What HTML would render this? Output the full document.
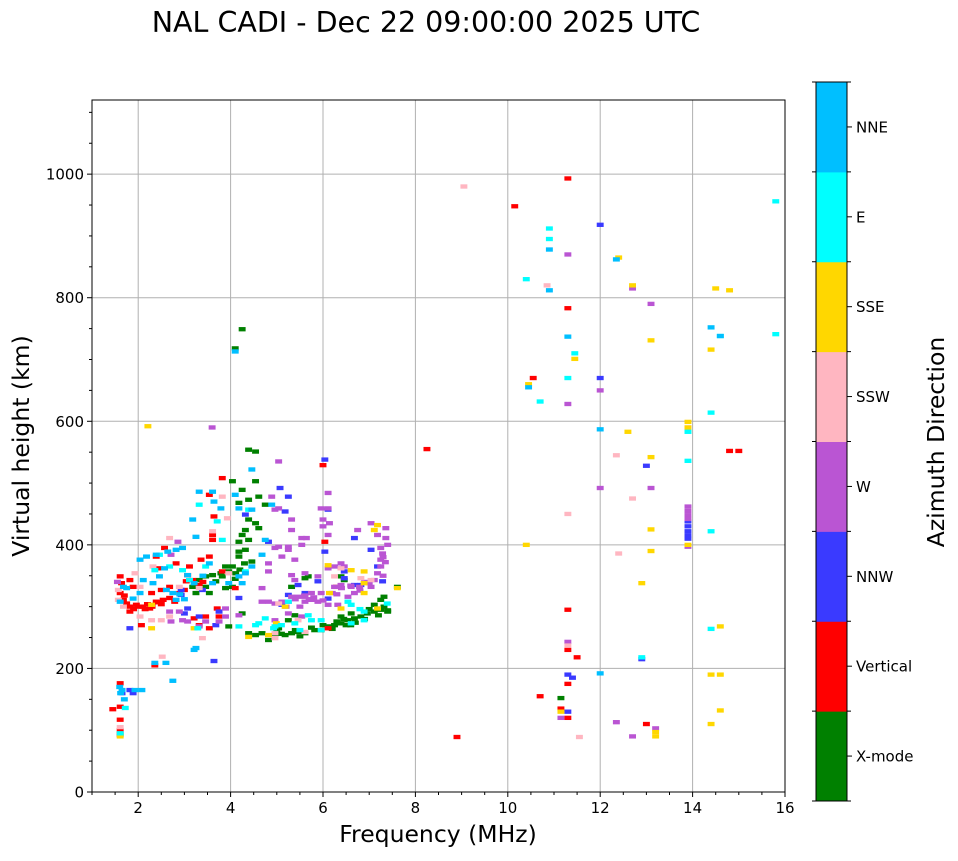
<!DOCTYPE html>
<html><head><meta charset="utf-8">
<style>
html,body{margin:0;padding:0;background:#fff;}
body{width:958px;height:857px;overflow:hidden;font-family:"DejaVu Sans","Liberation Sans",sans-serif;}
svg text{font-family:"DejaVu Sans","Liberation Sans",sans-serif;fill:#000;}
</style></head>
<body>
<svg id="chart" width="958" height="857" xmlns="http://www.w3.org/2000/svg">
<text x="426" y="32" font-size="28.5" text-anchor="middle">NAL CADI - Dec 22 09:00:00 2025 UTC</text>
<g id="grid"></g>
<g id="marks"></g>
<g id="axes"></g>
<text x="438" y="842" font-size="23.5" text-anchor="middle">Frequency (MHz)</text>
<text transform="translate(29,446) rotate(-90)" font-size="23.5" text-anchor="middle">Virtual height (km)</text>
<g id="cbar"></g>
<text transform="translate(944,442) rotate(-90)" font-size="23.5" text-anchor="middle">Azimuth Direction</text>
</svg>
<script>
const directions=["X-mode","Vertical","NNW","W","SSW","SSE","E","NNE"];
const colors=["#008000","#ff0000","#3a3aff","#ba55d3","#ffb6c1","#ffd700","#00ffff","#00bfff"];
const xTicks=[2,4,6,8,10,12,14,16];
const yTicks=[0,200,400,600,800,1000];

const xmodeFreq=[3.18,3.32,3.46,3.61,3.79,3.96,4.04,4.18,4.18,4.32,4.39,4.46,4.18,4.39,4.39,4.54,4.04,4.54,4.25,4.61,4.75,4.39,4.54,4.61,4.32,4.25,4.18,3.89,3.82,3.68,3.46,3.25,4.04,3.89,3.54,4.11,4.39,4.54,4.68,4.96,5.18,5.32,5.46,5.61,5.82,5.96,6.11,6.25,6.39,6.54,6.68,6.82,6.96,7.11,7.25,7.32,7.25,7.32,7.61,6.46,6.39,5.68,5.61,5.32,5.39,5.25,5.04,3.96,6.39,6.61,7.11,4.25,4.82,4.1,4.25,11.15,1.61,5.0,5.1,5.4,5.5,5.75,6.0,6.2,6.3,6.45,6.6,7.0,7.4,6.5,6.7,6.9,7.2,7.4,4.2,4.3,4.1];
const xmodeHeight=[332,343,349,351,354,357,365,381,389,392,408,373,468,473,554,551,503,503,489,478,465,441,435,427,424,416,405,365,349,341,332,322,332,330,322,354,257,254,257,254,254,257,259,257,262,262,268,270,273,278,281,284,289,292,295,300,311,316,332,343,349,349,346,332,286,278,265,268,284,289,303,289,246,718,749,152,93,258,256,262,252,266,270,264,276,280,270,296,292,270,274,280,286,294,360,370,345];
const vertFreq=[1.61,1.64,1.61,1.68,1.82,1.82,1.96,2.1,2.25,2.39,2.54,2.68,2.79,1.89,1.82,2.29,2.5,2.68,3.0,3.04,3.18,3.32,3.11,3.36,3.54,3.61,3.61,3.54,3.82,3.64,3.71,3.75,3.46,3.21,3.32,3.54,4.1,6.0,6.04,6.29,6.11,2.57,2.39,2.46,2.82,3.07,3.82,2.07,1.61,1.45,1.61,1.61,1.61,2.36,10.15,11.3,11.3,10.55,8.25,14.8,15.0,11.3,11.3,11.3,11.5,11.3,11.15,10.7,8.9,13.0,1.75,2.0,2.2,2.4,1.7,1.9,2.15,2.3,2.5,2.9,3.4];
const vertHeight=[349,338,322,311,300,292,303,300,297,308,311,314,308,332,343,322,327,332,327,341,343,335,365,376,381,408,416,481,508,446,297,284,284,281,270,265,330,529,405,332,265,395,381,362,370,351,357,270,176,134,138,117,100,205,948,993,783,670,555,552,552,295,230,175,218,120,135,155,89,110,305,300,304,307,318,296,296,300,304,322,340];
const nnwFreq=[2.93,2.93,3.32,3.39,3.68,3.75,4.32,4.82,5.07,5.25,6.04,6.04,6.11,6.11,6.46,6.46,6.68,6.82,7.18,7.29,5.25,5.11,5.61,5.89,6.68,7.04,5.46,4.18,1.82,3.07,3.0,5.18,1.65,1.82,1.89,3.64,12.0,12.0,13.0,12.9,13.9,13.9,13.9,13.9,13.9,11.3,11.4,11.3];
const nnwHeight=[327,319,284,327,270,292,449,405,492,478,389,538,457,313,357,346,335,335,365,341,319,303,322,341,411,392,335,314,265,297,289,454,160,165,160,212,918,670,528,215,438,430,422,415,410,190,185,130];
const wFreq=[5.04,4.89,4.96,5.04,5.32,5.32,5.54,5.64,5.96,6.0,6.0,6.11,6.11,6.14,6.11,6.75,7.04,7.18,7.36,7.36,7.25,7.29,7.25,7.25,7.18,7.11,7.04,6.79,6.61,6.39,6.25,6.39,6.46,6.25,5.96,5.75,5.61,5.46,5.32,5.25,5.11,4.96,4.68,4.68,4.82,5.61,5.75,5.89,6.11,6.32,6.54,6.68,4.96,5.25,5.54,5.89,5.61,5.39,5.11,5.25,4.96,4.82,4.82,3.89,3.89,4.18,3.75,3.46,3.32,2.96,2.71,2.68,2.89,3.07,2.86,2.71,5.04,5.25,5.39,5.32,5.54,6.11,6.39,3.6,1.55,11.3,12.0,12.0,13.1,12.7,11.3,13.1,12.35,12.7,13.2,11.15,11.3,13.9,13.9,13.9,13.9,13.9,5.4,5.6,5.8,6.0,6.2,6.4,6.6,6.8,7.0,7.3,7.35,5.2,5.5,5.7,6.3,6.9,7.3,7.4];
const wHeight=[535,478,457,459,441,424,411,411,459,441,430,484,459,435,416,424,435,416,427,411,395,386,376,365,354,343,332,332,332,335,332,370,365,365,322,322,316,316,316,308,308,305,330,308,308,308,311,308,303,303,316,322,278,289,284,349,354,376,381,392,395,357,370,297,284,286,276,276,268,278,276,292,292,276,405,384,397,397,343,351,400,362,362,590,340,870,650,492,790,815,628,492,113,90,103,120,243,462,455,448,442,397,312,318,315,310,322,330,334,326,338,350,372,300,300,312,320,340,380,400];
const sswFreq=[1.57,1.57,1.68,1.93,2.04,2.04,2.29,2.5,2.68,2.68,3.61,3.82,3.93,3.96,3.39,4.96,5.04,5.46,5.61,6.25,6.39,6.82,7.04,2.32,2.89,3.32,4.96,1.61,2.52,9.05,10.85,12.35,12.4,12.7,11.3,11.3,11.55,13.9,1.6];
const sswHeight=[327,311,300,354,332,284,278,278,411,284,422,478,443,354,249,249,305,278,259,349,362,346,343,365,332,330,257,105,219,980,820,545,386,475,450,237,89,590,92];
const sseFreq=[2.21,2.29,2.29,3.21,4.39,4.82,5.18,6.11,6.14,6.39,6.61,6.89,6.89,6.89,7.18,7.11,7.18,7.61,4.99,1.61,12.4,12.7,14.5,14.8,14.4,13.1,11.45,10.45,12.6,13.1,13.1,13.1,12.9,13.9,13.9,13.9,13.9,10.4,14.6,14.4,14.6,14.6,14.4,13.2,13.2,11.15];
const sseHeight=[592,303,265,265,251,254,300,367,322,297,359,357,338,322,432,424,297,330,273,90,865,820,815,812,716,731,701,660,583,542,425,390,338,599,590,584,400,400,268,190,190,132,110,97,90,130];
const eFreq=[3.32,3.71,3.82,4.32,4.61,4.54,4.18,5.68,5.96,5.96,6.54,6.61,6.61,6.89,7.39,6.89,4.75,4.96,5.39,3.46,3.11,2.36,2.68,2.96,2.46,3.29,4.93,4.39,5.25,5.75,1.72,1.61,10.9,10.9,10.4,10.7,11.3,13.9,13.9,14.4,14.4,14.4,12.9,15.8,15.8,14.6,11.45,5.1,5.5,6.8];
const eHeight=[465,438,408,357,273,270,268,286,278,262,308,303,273,292,305,278,281,268,273,365,343,359,365,359,384,265,265,457,308,278,136,95,895,912,830,632,670,583,536,614,422,264,218,956,741,738,710,270,262,296];
const nneFreq=[2.04,2.18,2.39,2.64,2.82,2.96,3.25,3.61,3.64,3.79,4.1,4.18,4.46,4.46,4.46,4.32,4.18,4.25,3.96,3.61,2.75,2.82,2.61,2.46,2.04,1.89,1.68,1.61,2.11,2.32,3.07,3.21,4.75,4.89,4.68,3.32,3.18,3.21,2.57,3.54,1.65,1.93,2.08,2.36,2.6,3.25,2.75,1.6,1.7,4.1,10.9,10.9,11.3,12.0,12.35,14.4,14.6,12.0,10.45,1.75,1.62,2.9,3.0,3.4];
const nneHeight=[376,381,384,389,392,395,413,486,470,459,481,459,522,457,365,354,349,338,338,338,322,311,327,349,322,313,332,308,343,338,351,338,408,465,384,486,441,230,362,370,165,165,165,209,209,233,180,170,150,713,878,812,737,587,862,752,738,192,655,330,160,320,312,350];

const seriesFreq=[xmodeFreq,vertFreq,nnwFreq,wFreq,sswFreq,sseFreq,eFreq,nneFreq];
const seriesHeight=[xmodeHeight,vertHeight,nnwHeight,wHeight,sswHeight,sseHeight,eHeight,nneHeight];

const L=92,R=785,T=100,B=792,FMIN=1,FMAX=16,HMIN=0,HMAX=1120;
const xs=f=>L+(f-FMIN)/(FMAX-FMIN)*(R-L);
const ys=h=>B-(h-HMIN)/(HMAX-HMIN)*(B-T);
const NS="http://www.w3.org/2000/svg";
function mk(tag,attrs,parent){const e=document.createElementNS(NS,tag);for(const k in attrs)e.setAttribute(k,attrs[k]);parent.appendChild(e);return e;}
const grid=document.getElementById('grid'),marks=document.getElementById('marks'),axes=document.getElementById('axes'),cbar=document.getElementById('cbar');

xTicks.forEach(v=>{const l=mk('line',{x1:xs(v),x2:xs(v),y1:T,y2:B,stroke:'#b0b0b0','stroke-width':1},grid);

});
yTicks.forEach(v=>{const l=mk('line',{x1:L,x2:R,y1:ys(v),y2:ys(v),stroke:'#b0b0b0','stroke-width':1},grid);

});

const CW=0.15,CH=7;
seriesFreq.forEach((fa,si)=>{fa.forEach((f,i)=>{const h=seriesHeight[si][i];
const r=mk('rect',{x:xs(f-CW/2),y:ys(h+CH/2),width:xs(f+CW/2)-xs(f-CW/2),height:ys(h-CH/2)-ys(h+CH/2),fill:colors[si]},marks);

});});

mk('rect',{x:L,y:T,width:R-L,height:B-T,fill:'none',stroke:'#000','stroke-width':1},axes);
for(let v=1;v<=16;v+=0.5){const big=xTicks.includes(v);mk('line',{x1:xs(v),x2:xs(v),y1:B,y2:B+(big?5:3),stroke:'#000'},axes);}
for(let v=0;v<=1100;v+=50){const big=yTicks.includes(v);mk('line',{x1:L,x2:L-(big?5:3),y1:ys(v),y2:ys(v),stroke:'#000'},axes);}
xTicks.forEach(v=>{const t=mk('text',{x:xs(v),y:B+21,'font-size':15,'text-anchor':'middle'},axes);t.textContent=v;

});
yTicks.forEach(v=>{const t=mk('text',{x:L-8,y:ys(v)+5.5,'font-size':15,'text-anchor':'end'},axes);t.textContent=v;

});

const CX=816,CWD=31,CT=82,CB=801,seg=(CB-CT)/directions.length;
directions.forEach((d,i)=>{const y0=CB-(i+1)*seg;
const r=mk('rect',{x:CX,y:y0,width:CWD,height:seg+0.5,fill:colors[i]},cbar);


mk('line',{x1:CX+CWD,x2:CX+CWD+5,y1:y0+seg/2,y2:y0+seg/2,stroke:'#000'},cbar);
const t=mk('text',{x:CX+CWD+9,y:y0+seg/2+5.5,'font-size':15},cbar);t.textContent=d;

});
for(let i=0;i<=directions.length;i++){mk('line',{x1:CX,x2:CX-4,y1:CB-i*seg,y2:CB-i*seg,stroke:'#000'},cbar);mk('line',{x1:CX+CWD,x2:CX+CWD+4,y1:CB-i*seg,y2:CB-i*seg,stroke:'#000'},cbar);}
mk('rect',{x:CX,y:CT,width:CWD,height:CB-CT,fill:'none',stroke:'#000'},cbar);
</script>
</body></html>
